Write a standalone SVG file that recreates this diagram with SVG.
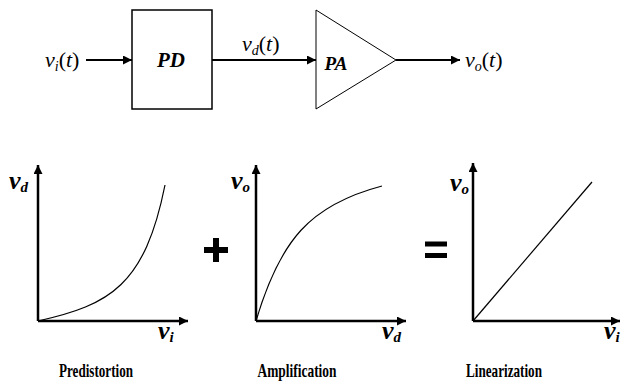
<svg xmlns="http://www.w3.org/2000/svg" width="621" height="384" viewBox="0 0 621 384">
<defs>
<marker id="ah" viewBox="0 0 10 10" refX="10" refY="5" markerWidth="10" markerHeight="9" markerUnits="userSpaceOnUse" orient="auto">
<path d="M0,0 L10,5 L0,10 Z" fill="#000"/>
</marker>
<style>
text{font-family:'Liberation Serif','Times New Roman',serif;fill:#000}
.math{font-style:italic;font-size:22px}
.mb{font-style:italic;font-weight:bold;font-size:26px}
.cap{font-weight:bold;font-size:19px;text-anchor:middle}
.conn{stroke:#000;stroke-width:2;fill:none;marker-end:url(#ah)}
.axis{stroke:#000;stroke-width:2.5;fill:none;marker-end:url(#ah)}
.curve{stroke:#000;stroke-width:1.2;fill:none}
</style>
</defs>
<rect width="621" height="384" fill="#fff"/>

<g id="pd">
<rect x="132" y="10" width="80" height="99" fill="#fff" stroke="#000" stroke-width="1.5"/>
<text x="171" y="67" font-style="italic" font-weight="bold" font-size="21" text-anchor="middle">PD</text>
</g>
<g id="pa">
<polygon points="316,10 396,60 316,109" fill="#fff" stroke="#000" stroke-width="1"/>
<text x="336" y="70" font-style="italic" font-weight="bold" font-size="19" text-anchor="middle">PA</text>
</g>

<g id="connectors">
<line x1="86" y1="60" x2="132" y2="60" class="conn"/>
<line x1="212" y1="60" x2="316" y2="60" class="conn"/>
<line x1="396" y1="60" x2="460" y2="60" class="conn"/>
</g>

<g id="signals">
<text x="45" y="67" class="math">v<tspan font-size="14" dy="4">i</tspan><tspan dy="-4" font-style="normal">(</tspan>t<tspan font-style="normal">)</tspan></text>
<text x="242" y="51" class="math">v<tspan font-size="14" dy="4">d</tspan><tspan dy="-4" font-style="normal">(</tspan>t<tspan font-style="normal">)</tspan></text>
<text x="465" y="67" class="math">v<tspan font-size="14" dy="4">o</tspan><tspan dy="-4" font-style="normal">(</tspan>t<tspan font-style="normal">)</tspan></text>
</g>

<g id="plot-predistortion">
<line x1="38" y1="321" x2="38" y2="165" class="axis"/>
<line x1="38" y1="321" x2="188" y2="321" class="axis"/>
<path d="M38,321 C110,305 145,285 165,185" class="curve"/>
<text x="9" y="189" class="mb">v<tspan font-size="15" dy="3">d</tspan></text>
<text x="158" y="339" class="mb">v<tspan font-size="15" dy="3">i</tspan></text>
<text x="96" y="377" class="cap" textLength="74" lengthAdjust="spacingAndGlyphs">Predistortion</text>
</g>

<g id="plus">
<path d="M204,250 H228 M216,238 V262" stroke="#000" stroke-width="6" fill="none"/>
</g>

<g id="plot-amplification">
<line x1="256" y1="321" x2="256" y2="165" class="axis"/>
<line x1="256" y1="321" x2="406" y2="321" class="axis"/>
<path d="M256,321 C280,240 310,205 382,186" class="curve"/>
<text x="231" y="189" class="mb">v<tspan font-size="15" dy="3">o</tspan></text>
<text x="382" y="339" class="mb">v<tspan font-size="15" dy="3">d</tspan></text>
<text x="297" y="377" class="cap" textLength="79" lengthAdjust="spacingAndGlyphs">Amplification</text>
</g>

<g id="equals">
<path d="M425,244 H447 M425,255.5 H447" stroke="#000" stroke-width="5" fill="none"/>
</g>

<g id="plot-linearization">
<line x1="473" y1="321" x2="473" y2="163" class="axis"/>
<line x1="473" y1="321" x2="620" y2="321" class="axis"/>
<line x1="473" y1="321" x2="592" y2="182" class="curve"/>
<text x="450" y="191" class="mb">v<tspan font-size="15" dy="3">o</tspan></text>
<text x="604" y="339" class="mb">v<tspan font-size="15" dy="3">i</tspan></text>
<text x="504" y="377" class="cap" textLength="76" lengthAdjust="spacingAndGlyphs">Linearization</text>
</g>
</svg>
